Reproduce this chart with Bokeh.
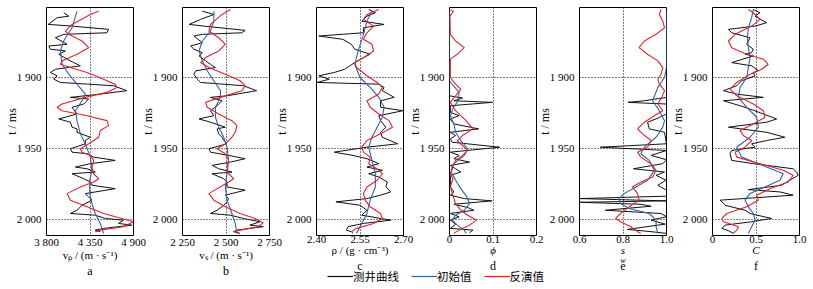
from bokeh.plotting import figure
from bokeh.models import Range1d, FixedTicker, Title, Legend, LegendItem
from bokeh.layouts import row, column
from bokeh.embed import file_html
from bokeh.resources import INLINE

# ---------------- data (time in ms) ----------------
Y_TICKS = [1900, 1950, 2000]
Y_LABELS = ["1 900", "1 950", "2 000"]

# panel a : vp
A_LOG_T = [1854.4,1856.8,1857.9,1862.6,1863.8,1866.1,1868.5,1869.6,1872.0,1876.6,1877.8,1880.1,1881.3,1883.6,1887.1,1889.5,1891.8,1894.2,1896.5,1898.8,1901.2,1903.5,1905.8,1909.3,1911.7,1914.0,1915.2,1918.7,1921.0,1925.7,1929.2,1931.5,1935.0,1936.2,1938.6,1942.1,1944.4,1946.7,1950.2,1952.6,1953.7,1956.1,1958.4,1960.7,1963.1,1964.3,1966.6,1967.8,1971.3,1973.6,1975.9,1978.3,1981.8,1984.1,1986.4,1990.0,1993.5,1995.8,1997.0,1999.3,2000.5,2002.8,2004.0,2006.3,2007.5,2008.6]
A_LOG_V = [4018,4081,3934,3821,4123,4585,4564,4018,3913,4060,3829,3850,4039,3955,4060,4144,4228,3913,3850,3934,3892,3976,4648,4816,4480,4102,4333,4270,4123,4186,3955,4102,4123,4186,4186,4354,4291,4291,4102,4123,4312,4396,4669,4354,4165,4312,4417,4123,4270,4354,4375,4669,4291,4333,4375,4249,4186,4102,4417,4543,4774,4711,4879,4522,4417,4480]
A_INI_T = [1853.3,1865.0,1874.3,1881.3,1890.7,1897.7,1904.7,1911.7,1916.4,1923.4,1930.4,1939.7,1946.7,1956.1,1965.4,1972.4,1981.8,1988.8,1995.8,2002.8,2009.8]
A_INI_V = [4186,4123,4018,3976,3997,4081,4186,4291,4249,4165,4186,4228,4291,4354,4375,4346,4346,4375,4417,4480,4522]
A_INV_T = [1853.3,1855.6,1862.6,1867.3,1869.6,1874.3,1879.0,1883.6,1888.3,1890.7,1893.0,1896.5,1901.2,1904.7,1907.0,1910.5,1914.0,1918.7,1921.0,1923.4,1926.9,1930.4,1933.9,1937.4,1942.1,1946.7,1950.2,1952.6,1954.9,1958.4,1963.1,1967.8,1971.3,1973.6,1977.1,1981.8,1986.4,1991.1,1995.8,1999.3,2001.6,2005.1,2007.5,2008.6]
A_INV_V = [4459,4354,4123,4039,4081,4249,4333,4186,3997,3976,4102,4312,4522,4669,4690,4564,4291,3997,3934,3997,4312,4564,4585,4480,4459,4333,4228,4249,4354,4396,4375,4396,4459,4396,4228,4060,4102,4312,4522,4753,4900,4774,4480,4417]

# panel b : vs
B_LOG_T = [1853.3,1855.6,1859.1,1862.6,1863.8,1866.8,1868.5,1869.6,1870.8,1875.5,1877.8,1880.1,1882.5,1884.8,1888.3,1890.7,1893.0,1895.3,1897.7,1901.2,1903.5,1905.8,1909.3,1912.9,1914.0,1916.4,1919.9,1923.4,1926.9,1929.2,1931.5,1935.0,1936.2,1939.7,1942.1,1944.4,1946.7,1950.2,1952.6,1954.9,1957.2,1959.6,1961.9,1964.3,1966.6,1967.8,1971.3,1973.6,1977.1,1979.4,1982.9,1985.3,1987.6,1990.0,1993.5,1995.8,1997.0,1999.3,2001.6,2004.0,2005.1,2007.5,2008.6,2009.8]
B_LOG_V = [2364,2430,2354,2288,2373,2610,2591,2364,2316,2364,2297,2316,2364,2345,2383,2411,2439,2326,2316,2335,2354,2600,2676,2506,2411,2477,2449,2411,2430,2345,2411,2496,2449,2458,2477,2487,2506,2402,2411,2515,2610,2525,2420,2458,2534,2420,2487,2506,2506,2610,2496,2515,2506,2487,2449,2411,2525,2600,2695,2638,2714,2563,2544,2581]
B_INI_T = [1853.3,1860.3,1867.3,1874.3,1881.3,1888.3,1895.3,1902.3,1909.3,1914.0,1921.0,1928.0,1935.0,1942.1,1949.1,1958.4,1967.8,1977.1,1986.4,1995.8,2002.8,2009.8]
B_INI_V = [2430,2430,2411,2364,2345,2364,2392,2430,2468,2468,2439,2439,2458,2487,2506,2515,2506,2496,2506,2534,2553,2563]
B_INV_T = [1852.1,1855.6,1862.6,1867.3,1872.0,1876.6,1881.3,1886.0,1889.5,1893.0,1897.7,1902.3,1905.8,1909.3,1914.0,1917.5,1921.0,1925.7,1930.4,1933.9,1938.6,1942.1,1946.7,1950.2,1953.7,1958.4,1963.1,1967.8,1971.3,1973.6,1978.3,1981.8,1986.4,1991.1,1995.8,1999.3,2002.3,2005.1,2007.5,2008.6]
B_INV_V = [2525,2477,2411,2402,2458,2496,2458,2383,2354,2402,2496,2581,2610,2591,2468,2383,2392,2458,2534,2563,2553,2534,2496,2449,2496,2515,2506,2515,2544,2515,2449,2402,2430,2496,2581,2667,2714,2686,2581,2544]

# panel c : density
C_LOG_T = [1852.1,1854.4,1856.8,1860.3,1862.6,1865.0,1868.5,1870.8,1873.1,1876.6,1880.1,1883.6,1886.0,1889.5,1891.8,1894.2,1896.5,1898.8,1901.2,1903.5,1904.7,1907.0,1909.3,1914.0,1916.4,1921.0,1923.4,1926.9,1930.4,1935.0,1938.6,1942.1,1946.7,1949.1,1952.6,1954.9,1957.2,1960.7,1963.1,1965.4,1967.8,1970.1,1973.6,1977.1,1980.6,1982.9,1985.3,1987.6,1990.0,1993.5,1997.0,2000.5,2002.8,2005.1,2007.5,2008.6,2009.8]
C_LOG_V = [2.580,2.603,2.574,2.556,2.633,2.562,2.562,2.408,2.491,2.520,2.532,2.585,2.562,2.532,2.515,2.497,2.461,2.408,2.444,2.402,2.615,2.633,2.627,2.668,2.621,2.621,2.698,2.615,2.621,2.639,2.621,2.627,2.680,2.574,2.461,2.526,2.574,2.615,2.574,2.627,2.580,2.615,2.644,2.639,2.656,2.621,2.574,2.467,2.550,2.574,2.556,2.656,2.562,2.509,2.503,2.520,2.526]
C_INI_T = [1853.3,1860.3,1869.6,1881.3,1890.7,1900.0,1907.0,1914.0,1921.0,1928.0,1935.0,1942.1,1949.1,1958.4,1967.8,1977.1,1986.4,1995.8,2002.8,2009.8]
C_INI_V = [2.591,2.574,2.562,2.544,2.532,2.550,2.585,2.615,2.633,2.627,2.609,2.591,2.580,2.591,2.603,2.603,2.585,2.574,2.556,2.538]
C_INV_T = [1852.1,1855.6,1859.1,1863.8,1868.5,1873.1,1876.6,1881.3,1886.0,1889.5,1893.0,1898.8,1903.5,1907.0,1911.7,1916.4,1921.0,1925.7,1930.4,1935.0,1939.7,1944.4,1949.1,1952.6,1956.1,1960.7,1964.3,1967.8,1972.4,1977.1,1981.8,1986.4,1991.1,1995.8,1999.3,2002.8,2006.3,2008.6]
C_INV_V = [2.615,2.574,2.562,2.597,2.574,2.562,2.591,2.597,2.562,2.532,2.538,2.574,2.609,2.627,2.615,2.574,2.585,2.615,2.650,2.662,2.621,2.574,2.556,2.562,2.585,2.580,2.609,2.627,2.609,2.574,2.562,2.568,2.585,2.621,2.627,2.597,2.538,2.520]

# panel d : porosity
D_LOG_T = [1852.5,1912.9,1914.5,1916.4,1917.5,1919.9,1924.5,1926.9,1929.2,1932.7,1936.2,1938.6,1940.9,1943.2,1945.6,1949.1,1952.6,1954.9,1957.2,1959.6,1961.9,1964.3,1966.6,1968.9,1977.1,1980.6,1982.9,1985.3,1986.9,1989.3,1991.6,1993.5,1995.8,1998.1,2000.5,2003.3,2006.3,2007.5,2009.3]
D_LOG_V = [0,0,0.030,0.010,0.099,0.002,0.002,0.022,0.002,0.010,0.067,0.002,0.014,0.002,0.006,0.115,0.002,0.022,0.010,0.046,0.002,0.014,0.026,0.002,0.002,0.010,0.002,0.034,0.098,0.010,0.042,0.056,0.002,0.022,0.002,0.014,0.002,0.054,0.046]
D_INI_T = [1852.5,1902.3,1905.8,1910.5,1916.4,1921.0,1926.9,1932.7,1938.6,1944.4,1950.2,1954.9,1960.7,1966.6,1972.4,1978.3,1984.1,1988.8,1993.5,1997.0,2000.5,2004.0,2007.5,2009.8]
D_INI_V = [0,0,0.009,0.022,0.020,0.009,0.002,0.010,0.014,0.026,0.042,0.034,0.010,0.004,0.014,0.026,0.040,0.046,0.034,0.014,0.006,0.018,0.034,0.038]
D_INV_T = [1852.5,1853.3,1856.8,1869.6,1874.3,1879.0,1883.6,1887.1,1900.0,1904.7,1908.2,1912.9,1917.5,1923.4,1930.4,1936.2,1940.9,1944.4,1947.9,1951.4,1954.9,1958.4,1963.1,1967.8,1971.3,1977.1,1984.1,1988.8,1993.5,1997.0,2000.5,2004.0,2007.5,2009.8]
D_INV_V = [0.002,0.009,0.001,0.002,0.014,0.034,0.018,0.002,0.002,0.014,0.026,0.014,0.002,0.014,0.038,0.054,0.030,0.018,0.030,0.042,0.030,0.014,0.006,0.002,0.008,0.002,0.009,0.014,0.026,0.042,0.062,0.046,0.022,0.010]

# panel e : water saturation
E_LOG_T = [1852.5,1914.0,1916.4,1917.5,1918.7,1925.7,1929.2,1931.5,1936.2,1938.6,1946.7,1949.1,1951.4,1954.9,1957.9,1960.7,1964.3,1966.6,1968.9,1972.4,1975.9,1979.4,1983.6,1985.3,1986.9,1987.9,1989.3,1990.7,1993.5,1995.8,1998.1,2000.5,2003.3,2007.0,2008.6,2009.8]
E_LOG_V = [1.0,1.0,0.898,0.823,1.0,1.0,0.952,0.913,0.921,0.991,1.0,0.696,1.0,0.929,1.0,0.983,0.848,0.991,0.952,0.998,0.960,1.0,1.0,0.603,0.998,0.600,0.882,0.929,0.719,0.975,1.0,0.929,0.994,0.820,0.929,1.0]
E_INI_T = [1852.5,1893.0,1900.0,1907.0,1916.4,1923.4,1930.4,1935.0,1942.1,1949.1,1953.7,1958.4,1965.4,1972.4,1977.1,1981.8,1985.3,1988.8,1992.3,1995.8,2000.5,2005.1,2009.8]
E_INI_V = [1.0,1.0,0.991,0.960,0.936,0.967,0.991,0.983,0.952,0.898,0.882,0.921,0.944,0.913,0.859,0.805,0.781,0.789,0.828,0.921,0.952,0.952,0.960]
E_INV_T = [1852.1,1855.6,1860.3,1865.0,1869.6,1874.3,1879.0,1883.6,1888.3,1893.0,1897.7,1901.2,1904.7,1909.3,1914.0,1918.7,1923.4,1926.9,1931.5,1936.2,1939.7,1944.4,1949.1,1952.6,1956.1,1960.7,1965.4,1970.1,1973.6,1977.1,1981.8,1986.4,1991.1,1995.8,1999.3,2001.6,2005.1,2008.6,2009.8]
E_INV_V = [0.975,0.967,0.983,0.991,0.952,0.898,0.874,0.913,0.960,0.983,0.975,0.960,0.967,0.991,0.978,0.960,0.983,0.944,0.898,0.867,0.890,0.929,0.913,0.867,0.882,0.929,0.952,0.936,0.882,0.843,0.867,0.874,0.828,0.789,0.766,0.789,0.836,0.867,0.882]

# panel f : C
F_LOG_T = [1852.1,1854.4,1856.8,1861.4,1863.8,1866.1,1868.5,1872.0,1876.6,1880.1,1882.5,1883.6,1884.8,1889.5,1891.8,1895.3,1896.5,1898.8,1902.3,1905.8,1909.3,1911.7,1914.0,1916.4,1919.9,1922.2,1925.7,1929.2,1931.5,1935.0,1938.6,1942.1,1944.4,1946.7,1949.1,1951.4,1953.7,1958.4,1960.7,1964.3,1966.6,1968.9,1972.4,1975.9,1979.0,1980.6,1982.9,1986.4,1990.0,1993.5,1995.8,1999.3,2001.6,2004.0,2006.3,2007.9,2009.8]
F_LOG_V = [0.469,0.546,0.489,0.622,0.489,0.183,0.221,0.431,0.393,0.469,0.450,0.374,0.469,0.221,0.450,0.527,0.469,0.489,0.336,0.279,0.126,0.279,0.584,0.126,0.317,0.431,0.584,0.737,0.622,0.183,0.622,0.832,0.622,0.450,0.489,0.221,0.202,0.221,0.469,0.927,0.966,0.985,0.889,0.794,0.412,0.775,0.927,0.088,0.145,0.374,0.431,0.679,0.450,0.145,0.107,0.183,0.240]
F_INI_T = [1852.1,1857.9,1865.0,1872.0,1879.0,1886.0,1893.0,1900.0,1907.0,1914.0,1921.0,1928.0,1935.0,1942.1,1949.1,1956.1,1963.1,1967.8,1972.4,1977.1,1981.8,1986.4,1991.1,1995.8,2000.5,2005.1,2009.8]
F_INI_V = [0.469,0.450,0.412,0.401,0.412,0.431,0.412,0.393,0.317,0.298,0.393,0.508,0.527,0.431,0.279,0.336,0.622,0.813,0.775,0.603,0.431,0.374,0.412,0.469,0.489,0.450,0.412]
F_INV_T = [1852.1,1854.4,1859.1,1863.8,1869.6,1874.3,1879.0,1883.6,1887.1,1890.7,1894.2,1897.7,1903.5,1908.2,1912.9,1918.7,1923.4,1928.0,1932.7,1937.4,1940.9,1944.4,1949.1,1952.6,1956.1,1960.7,1965.4,1968.9,1973.6,1978.3,1982.9,1986.4,1991.1,1995.8,1999.3,2001.6,2005.1,2007.5,2009.8]
F_INV_V = [0.412,0.469,0.546,0.450,0.260,0.183,0.221,0.393,0.584,0.641,0.565,0.431,0.279,0.202,0.279,0.469,0.584,0.603,0.469,0.317,0.355,0.450,0.374,0.260,0.279,0.546,0.813,0.927,0.870,0.660,0.508,0.527,0.393,0.164,0.107,0.126,0.298,0.279,0.240]

PANELS = [
    dict(xr=(3800, 4900), ticks=[3800, 4350, 4900], labels=["3 800", "4 350", "4 900"],
         xlabel="vₚ / (m · s⁻¹)", sub=None, letter="a", style="normal",
         log=(A_LOG_T, A_LOG_V), ini=(A_INI_T, A_INI_V), inv=(A_INV_T, A_INV_V)),
    dict(xr=(2250, 2750), ticks=[2250, 2500, 2750], labels=["2 250", "2 500", "2 750"],
         xlabel="vₛ / (m · s⁻¹)", sub=None, letter="b", style="normal",
         log=(B_LOG_T, B_LOG_V), ini=(B_INI_T, B_INI_V), inv=(B_INV_T, B_INV_V)),
    dict(xr=(2.40, 2.70), ticks=[2.40, 2.55, 2.70], labels=["2.40", "2.55", "2.70"],
         xlabel="ρ / (g · cm⁻³)", sub=None, letter="c", style="normal",
         log=(C_LOG_T, C_LOG_V), ini=(C_INI_T, C_INI_V), inv=(C_INV_T, C_INV_V)),
    dict(xr=(0, 0.2), ticks=[0, 0.1, 0.2], labels=["0", "0.1", "0.2"],
         xlabel="ϕ", sub=None, letter="d", style="italic",
         log=(D_LOG_T, D_LOG_V), ini=(D_INI_T, D_INI_V), inv=(D_INV_T, D_INV_V)),
    dict(xr=(0.6, 1.0), ticks=[0.6, 0.8, 1.0], labels=["0.6", "0.8", "1.0"],
         xlabel="s", sub="w", letter="e", style="italic",
         log=(E_LOG_T, E_LOG_V), ini=(E_INI_T, E_INI_V), inv=(E_INV_T, E_INV_V)),
    dict(xr=(0, 1.0), ticks=[0, 0.5, 1.0], labels=["0", "0.5", "1.0"],
         xlabel="C", sub=None, letter="f", style="italic",
         log=(F_LOG_T, F_LOG_V), ini=(F_INI_T, F_INI_V), inv=(F_INV_T, F_INV_V)),
]

LEGEND_LABELS = ["测井曲线", "初始值", "反演值"]

# ---------------- styling / layout ----------------
SERIF = "Liberation Serif"
CJK = "Noto Sans CJK SC"
BLACK = "#111111"
BLUE = "#2f62ae"
RED = "#e3232c"
T_TOP, T_BOTTOM = 1850.7, 2011.3
LEFT, TOP, BOTTOM, FRAME_W = 46, 7, 44, 87
FRAME_H = 228
MARGINS = [0, -10, -12, -13, -16, -13]
RIGHTS = [13, 13, 13, 13, 13, 12]


def make_panel(cfg, idx):
    p = figure(width=LEFT + FRAME_W + RIGHTS[idx], height=TOP + FRAME_H + BOTTOM, title=None,
               x_range=Range1d(*cfg["xr"]), y_range=Range1d(T_BOTTOM, T_TOP),
               output_backend="svg", toolbar_location=None,
               min_border_left=LEFT, min_border_right=RIGHTS[idx],
               min_border_top=TOP, min_border_bottom=BOTTOM,
               border_fill_color=None, background_fill_color="white",
               outline_line_color="black", outline_line_width=1)
    p.margin = (0, 0, 0, MARGINS[idx])

    for (t, v), col, lw in ((cfg["log"], BLACK, 1.0), (cfg["ini"], BLUE, 1.1), (cfg["inv"], RED, 1.1)):
        p.line(x=v, y=t, line_color=col, line_width=lw)

    xa = p.xaxis[0]
    xa.ticker = FixedTicker(ticks=cfg["ticks"])
    xa.major_label_overrides = dict(zip(cfg["ticks"], cfg["labels"]))
    xa.axis_label = cfg["xlabel"]
    xa.axis_label_text_font = SERIF
    xa.axis_label_text_font_size = "11px"
    xa.axis_label_text_font_style = cfg["style"]
    xa.axis_label_standoff = -2
    xa.major_label_standoff = 0

    ya = p.yaxis[0]
    ya.ticker = FixedTicker(ticks=Y_TICKS)
    ya.major_label_overrides = dict(zip(Y_TICKS, Y_LABELS))
    ya.major_label_standoff = 5
    ya.axis_label = "t / ms"
    ya.axis_label_text_font = SERIF
    ya.axis_label_text_font_size = "12px"
    ya.axis_label_text_font_style = "normal"
    ya.axis_label_standoff = -5

    for ax in (xa, ya):
        ax.major_label_text_font = SERIF
        ax.major_label_text_font_size = "11px"
        ax.major_label_text_color = "black"
        ax.axis_label_text_color = "black"
        ax.axis_line_color = None
        ax.major_tick_line_color = None
        ax.minor_tick_line_color = None
        ax.major_tick_out = 0
        ax.major_tick_in = 0
        ax.minor_tick_out = 0
        ax.minor_tick_in = 0

    p.xgrid.ticker = FixedTicker(ticks=[cfg["ticks"][1]])
    p.ygrid.ticker = FixedTicker(ticks=Y_TICKS)
    for g in (p.xgrid, p.ygrid):
        g.grid_line_color = "black"
        g.grid_line_dash = "1 2"
        g.grid_line_width = 1

    letter_standoff = -4
    if cfg["sub"]:
        # subscript of the x-axis symbol (s_w), drawn as a small title just below it
        p.add_layout(Title(text=cfg["sub"], align="center", text_font=SERIF,
                           text_font_size="8px", text_font_style="italic",
                           standoff=-9, offset=3, text_color="black"), "below")
        letter_standoff = -1
    p.add_layout(Title(text=cfg["letter"], align="center", text_font=SERIF,
                       text_font_size="12px", text_font_style="normal",
                       standoff=letter_standoff, offset=0, text_color="black"), "below")
    return p


panels = [make_panel(cfg, i) for i, cfg in enumerate(PANELS)]

lg = figure(width=811, height=17, output_backend="svg", toolbar_location=None, title=None,
            x_range=Range1d(0, 1), y_range=Range1d(0, 1),
            x_axis_location=None, y_axis_location=None, min_border=0,
            outline_line_color=None, border_fill_color=None, background_fill_color=None)
lg.margin = (-12, 0, 0, 0)
lg.xgrid.visible = False
lg.ygrid.visible = False
items = []
for lab, col in zip(LEGEND_LABELS, (BLACK, BLUE, RED)):
    # renderer lies outside the visible range; only its legend glyph shows
    r = lg.line(x=[0, 1], y=[5, 5], line_color=col, line_width=1.2)
    items.append(LegendItem(label=lab, renderers=[r]))
legend = Legend(items=items, location=(327, 0), orientation="horizontal",
                label_text_font=CJK, label_text_font_size="11.5px", label_text_color="black",
                glyph_width=26, glyph_height=12, label_height=12, label_standoff=0,
                spacing=12, padding=0, margin=0, border_line_color=None,
                background_fill_alpha=0)
lg.add_layout(legend)

layout = column(row(*panels, spacing=0), lg, spacing=0)

open("out.html", "w").write(file_html(layout, INLINE))
